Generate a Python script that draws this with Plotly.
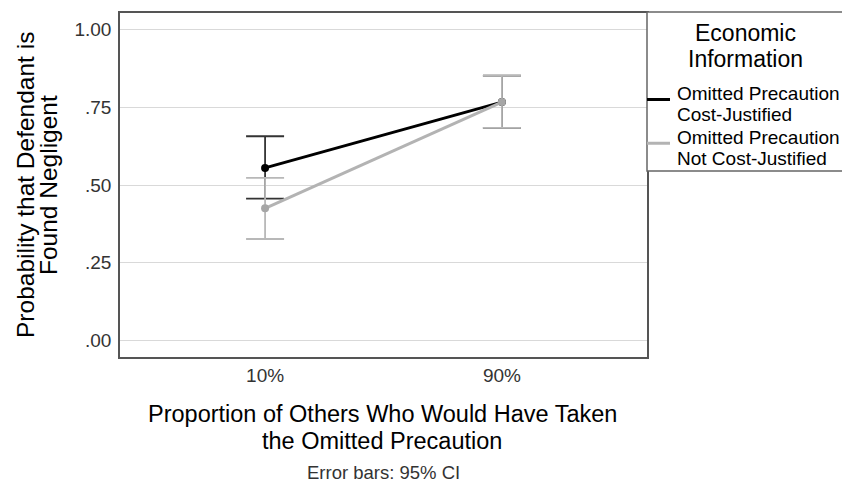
import plotly.graph_objects as go

categories = ["10%", "90%"]
series_lines = [["Omitted Precaution", "Cost-Justified"], ["Omitted Precaution", "Not Cost-Justified"]]
means_cost = [0.555, 0.767]
upper_cost = [0.657, 0.852]
lower_cost = [0.456, 0.684]
means_not = [0.425, 0.767]
upper_not = [0.523, 0.852]
lower_not = [0.326, 0.684]
y_ticks = [0, 0.25, 0.5, 0.75, 1.0]
y_tick_labels = [".00", ".25", ".50", ".75", "1.00"]
x_title = ["Proportion of Others Who Would Have Taken", "the Omitted Precaution"]
y_title = ["Probability that Defendant is", "Found Negligent"]
legend_title = ["Economic", "Information"]
footnote = "Error bars: 95% CI"

W, H = 842, 489
L, R, T, B = 120, 195, 11, 132
pw, ph = W - L - R, H - T - B

def px(x):
    return (x - L) / pw

def py(y):
    return (H - B - y) / ph

FONT = "Liberation Sans, Arial, sans-serif"
fig = go.Figure()

styles = [
    dict(line="#000000", marker="#000000", err="#333333"),
    dict(line="#b3b3b3", marker="#a6a6a6", err="#b8b8b8"),
]
data = [(means_cost, upper_cost, lower_cost), (means_not, upper_not, lower_not)]
for (m, u, l), st, name in zip(data, styles, series_lines):
    fig.add_trace(go.Scatter(
        x=categories, y=m, mode="lines+markers", name=" ".join(name),
        line=dict(color=st["line"], width=3),
        marker=dict(color=st["marker"], size=8),
        error_y=dict(type="data", symmetric=False,
                     array=[a - b for a, b in zip(u, m)],
                     arrayminus=[b - a for a, b in zip(l, m)],
                     color=st["err"], thickness=1.8, width=19),
        showlegend=False,
    ))

fig.update_layout(
    width=W, height=H,
    margin=dict(l=L, r=R, t=T, b=B),
    paper_bgcolor="white", plot_bgcolor="white",
    font=dict(family=FONT, color="#000"),
    xaxis=dict(type="category", range=[-0.6126, 1.6126], showgrid=False,
               showline=True, linecolor="#555", linewidth=1.5, mirror=True,
               ticks="", tickfont=dict(size=19, color="#333"), ticklabelstandoff=0),
    yaxis=dict(range=[-0.054, 1.054], tickvals=y_ticks, ticktext=y_tick_labels,
               showgrid=True, gridcolor="#d9d9d9", gridwidth=1, zeroline=False,
               showline=True, linecolor="#555", linewidth=1.5, mirror=True,
               ticks="", tickfont=dict(size=19, color="#333"), ticklabelstandoff=3),
)

def text(x, y, s, size, color="#000", xanchor="center", angle=0):
    fig.add_annotation(xref="paper", yref="paper", x=px(x), y=py(y), text=s,
                       showarrow=False, textangle=angle,
                       font=dict(size=size, color=color),
                       xanchor=xanchor, yanchor="middle")

# axis titles
text(382, 414, x_title[0], 23.5)
text(382, 441, x_title[1], 23.5)
text(25, 184, y_title[0], 24.5, angle=-90)
text(48, 184, y_title[1], 24.5, angle=-90)

# legend box
fig.add_shape(type="rect", xref="paper", yref="paper",
              x0=px(647), x1=px(850), y0=py(170), y1=py(10),
              line=dict(color="#666", width=1.5), fillcolor="white", layer="above")
text(745, 31, legend_title[0], 23)
text(745, 57, legend_title[1], 23)
line_y = [98, 142]
text_y = [(92, 113), (136, 157)]
for st, lines, ly, (y1, y2) in zip(styles, series_lines, line_y, text_y):
    fig.add_shape(type="line", xref="paper", yref="paper",
                  x0=px(647), x1=px(670), y0=py(ly), y1=py(ly),
                  line=dict(color=st["line"], width=3))
    text(675, y1, lines[0], 19, xanchor="left")
    text(675, y2, lines[1], 19, xanchor="left")

text(383, 473, footnote, 18.5, color="#333")

fig.write_html("out.html")
